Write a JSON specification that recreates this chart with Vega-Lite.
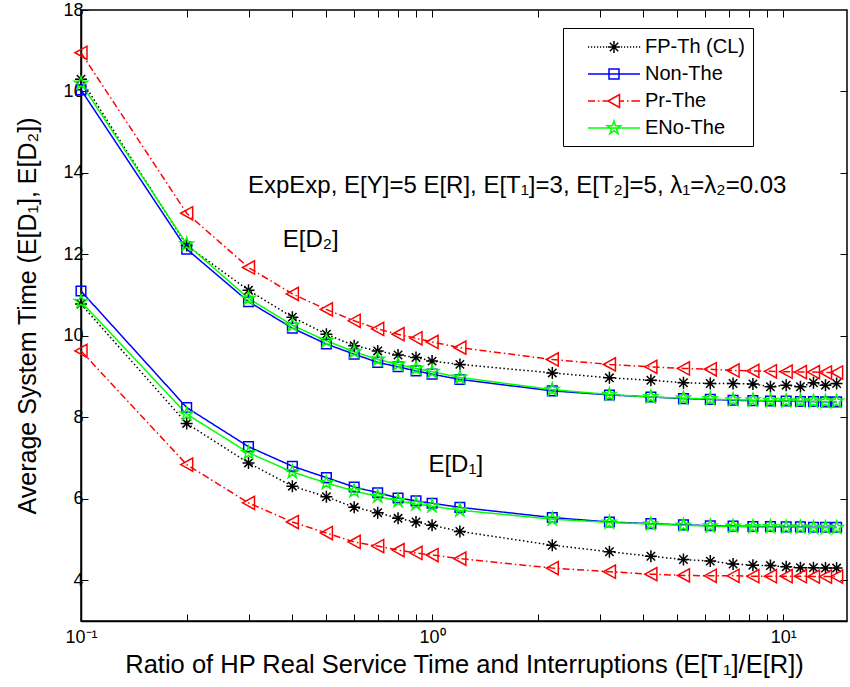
{
  "$schema": "https://vega.github.io/schema/vega-lite/v6.json",
  "width": 766,
  "height": 611,
  "autosize": {"type": "none"},
  "padding": {"left": 81, "top": 10, "right": 3, "bottom": 66},
  "background": "white",
  "config": {
    "font": "Liberation Sans",
    "view": {"stroke": "black", "strokeWidth": 1.5},
    "axis": {"grid": false, "domainColor": "black", "tickColor": "black", "labelColor": "black", "titleColor": "black", "labelFont": "Liberation Sans", "titleFont": "Liberation Sans", "titleFontWeight": "normal", "domainWidth": 1.5, "tickWidth": 1},
    "legend": {"orient": "none", "legendX": 482, "legendY": 18, "title": null, "strokeColor": "black", "fillColor": "white", "padding": 8, "cornerRadius": 0,
      "labelFontSize": 20, "labelFont": "Liberation Sans", "labelColor": "black", "symbolSize": 400, "symbolStrokeWidth": 1.5, "symbolOffset": 32, "labelOffset": 20, "rowPadding": 6, "symbolOpacity": 1}
  },
  "datasets": {
    "notes": [
      {"x": 0.299, "y": 13.51, "t": "ExpExp, E[Y]=5 E[R], E[T₁]=3, E[T₂]=5, λ₁=λ₂=0.03"},
      {"x": 0.3755, "y": 12.19, "t": "E[D₂]"},
      {"x": 0.976, "y": 6.66, "t": "E[D₁]"}
    ]
  },
  "data": {"values": [
    {"x":0.1,"c":"D2","s":"FP-Th (CL)","y":16.30},{"x":0.2,"c":"D2","s":"FP-Th (CL)","y":12.22},{"x":0.3,"c":"D2","s":"FP-Th (CL)","y":11.12},{"x":0.4,"c":"D2","s":"FP-Th (CL)","y":10.46},{"x":0.5,"c":"D2","s":"FP-Th (CL)","y":10.04},{"x":0.6,"c":"D2","s":"FP-Th (CL)","y":9.76},{"x":0.7,"c":"D2","s":"FP-Th (CL)","y":9.63},{"x":0.8,"c":"D2","s":"FP-Th (CL)","y":9.53},{"x":0.9,"c":"D2","s":"FP-Th (CL)","y":9.47},{"x":1.0,"c":"D2","s":"FP-Th (CL)","y":9.38},{"x":1.2,"c":"D2","s":"FP-Th (CL)","y":9.30},{"x":2.2,"c":"D2","s":"FP-Th (CL)","y":9.09},{"x":3.2,"c":"D2","s":"FP-Th (CL)","y":8.97},{"x":4.2,"c":"D2","s":"FP-Th (CL)","y":8.91},{"x":5.2,"c":"D2","s":"FP-Th (CL)","y":8.85},{"x":6.2,"c":"D2","s":"FP-Th (CL)","y":8.83},{"x":7.2,"c":"D2","s":"FP-Th (CL)","y":8.83},{"x":8.2,"c":"D2","s":"FP-Th (CL)","y":8.82},{"x":9.2,"c":"D2","s":"FP-Th (CL)","y":8.75},{"x":10.2,"c":"D2","s":"FP-Th (CL)","y":8.79},{"x":11.2,"c":"D2","s":"FP-Th (CL)","y":8.75},{"x":12.2,"c":"D2","s":"FP-Th (CL)","y":8.85},{"x":13.2,"c":"D2","s":"FP-Th (CL)","y":8.79},{"x":14.2,"c":"D2","s":"FP-Th (CL)","y":8.83},
    {"x":0.1,"c":"D1","s":"FP-Th (CL)","y":10.78},{"x":0.2,"c":"D1","s":"FP-Th (CL)","y":7.85},{"x":0.3,"c":"D1","s":"FP-Th (CL)","y":6.88},{"x":0.4,"c":"D1","s":"FP-Th (CL)","y":6.31},{"x":0.5,"c":"D1","s":"FP-Th (CL)","y":6.05},{"x":0.6,"c":"D1","s":"FP-Th (CL)","y":5.79},{"x":0.7,"c":"D1","s":"FP-Th (CL)","y":5.66},{"x":0.8,"c":"D1","s":"FP-Th (CL)","y":5.52},{"x":0.9,"c":"D1","s":"FP-Th (CL)","y":5.43},{"x":1.0,"c":"D1","s":"FP-Th (CL)","y":5.35},{"x":1.2,"c":"D1","s":"FP-Th (CL)","y":5.20},{"x":2.2,"c":"D1","s":"FP-Th (CL)","y":4.86},{"x":3.2,"c":"D1","s":"FP-Th (CL)","y":4.70},{"x":4.2,"c":"D1","s":"FP-Th (CL)","y":4.59},{"x":5.2,"c":"D1","s":"FP-Th (CL)","y":4.51},{"x":6.2,"c":"D1","s":"FP-Th (CL)","y":4.47},{"x":7.2,"c":"D1","s":"FP-Th (CL)","y":4.40},{"x":8.2,"c":"D1","s":"FP-Th (CL)","y":4.37},{"x":9.2,"c":"D1","s":"FP-Th (CL)","y":4.36},{"x":10.2,"c":"D1","s":"FP-Th (CL)","y":4.33},{"x":11.2,"c":"D1","s":"FP-Th (CL)","y":4.31},{"x":12.2,"c":"D1","s":"FP-Th (CL)","y":4.31},{"x":13.2,"c":"D1","s":"FP-Th (CL)","y":4.30},{"x":14.2,"c":"D1","s":"FP-Th (CL)","y":4.30},
    {"x":0.1,"c":"D2","s":"Non-The","y":16.04},{"x":0.2,"c":"D2","s":"Non-The","y":12.13},{"x":0.3,"c":"D2","s":"Non-The","y":10.84},{"x":0.4,"c":"D2","s":"Non-The","y":10.19},{"x":0.5,"c":"D2","s":"Non-The","y":9.80},{"x":0.6,"c":"D2","s":"Non-The","y":9.55},{"x":0.7,"c":"D2","s":"Non-The","y":9.35},{"x":0.8,"c":"D2","s":"Non-The","y":9.24},{"x":0.9,"c":"D2","s":"Non-The","y":9.14},{"x":1.0,"c":"D2","s":"Non-The","y":9.06},{"x":1.2,"c":"D2","s":"Non-The","y":8.93},{"x":2.2,"c":"D2","s":"Non-The","y":8.65},{"x":3.2,"c":"D2","s":"Non-The","y":8.55},{"x":4.2,"c":"D2","s":"Non-The","y":8.50},{"x":5.2,"c":"D2","s":"Non-The","y":8.46},{"x":6.2,"c":"D2","s":"Non-The","y":8.44},{"x":7.2,"c":"D2","s":"Non-The","y":8.42},{"x":8.2,"c":"D2","s":"Non-The","y":8.41},{"x":9.2,"c":"D2","s":"Non-The","y":8.40},{"x":10.2,"c":"D2","s":"Non-The","y":8.40},{"x":11.2,"c":"D2","s":"Non-The","y":8.39},{"x":12.2,"c":"D2","s":"Non-The","y":8.39},{"x":13.2,"c":"D2","s":"Non-The","y":8.38},{"x":14.2,"c":"D2","s":"Non-The","y":8.38},
    {"x":0.1,"c":"D1","s":"Non-The","y":11.10},{"x":0.2,"c":"D1","s":"Non-The","y":8.24},{"x":0.3,"c":"D1","s":"Non-The","y":7.28},{"x":0.4,"c":"D1","s":"Non-The","y":6.80},{"x":0.5,"c":"D1","s":"Non-The","y":6.52},{"x":0.6,"c":"D1","s":"Non-The","y":6.29},{"x":0.7,"c":"D1","s":"Non-The","y":6.15},{"x":0.8,"c":"D1","s":"Non-The","y":6.02},{"x":0.9,"c":"D1","s":"Non-The","y":5.95},{"x":1.0,"c":"D1","s":"Non-The","y":5.89},{"x":1.2,"c":"D1","s":"Non-The","y":5.79},{"x":2.2,"c":"D1","s":"Non-The","y":5.54},{"x":3.2,"c":"D1","s":"Non-The","y":5.43},{"x":4.2,"c":"D1","s":"Non-The","y":5.39},{"x":5.2,"c":"D1","s":"Non-The","y":5.36},{"x":6.2,"c":"D1","s":"Non-The","y":5.34},{"x":7.2,"c":"D1","s":"Non-The","y":5.33},{"x":8.2,"c":"D1","s":"Non-The","y":5.32},{"x":9.2,"c":"D1","s":"Non-The","y":5.32},{"x":10.2,"c":"D1","s":"Non-The","y":5.31},{"x":11.2,"c":"D1","s":"Non-The","y":5.31},{"x":12.2,"c":"D1","s":"Non-The","y":5.30},{"x":13.2,"c":"D1","s":"Non-The","y":5.30},{"x":14.2,"c":"D1","s":"Non-The","y":5.30},
    {"x":0.1,"c":"D2","s":"Pr-The","y":16.95},{"x":0.2,"c":"D2","s":"Pr-The","y":13.01},{"x":0.3,"c":"D2","s":"Pr-The","y":11.68},{"x":0.4,"c":"D2","s":"Pr-The","y":11.03},{"x":0.5,"c":"D2","s":"Pr-The","y":10.65},{"x":0.6,"c":"D2","s":"Pr-The","y":10.37},{"x":0.7,"c":"D2","s":"Pr-The","y":10.17},{"x":0.8,"c":"D2","s":"Pr-The","y":10.04},{"x":0.9,"c":"D2","s":"Pr-The","y":9.94},{"x":1.0,"c":"D2","s":"Pr-The","y":9.85},{"x":1.2,"c":"D2","s":"Pr-The","y":9.71},{"x":2.2,"c":"D2","s":"Pr-The","y":9.42},{"x":3.2,"c":"D2","s":"Pr-The","y":9.30},{"x":4.2,"c":"D2","s":"Pr-The","y":9.24},{"x":5.2,"c":"D2","s":"Pr-The","y":9.20},{"x":6.2,"c":"D2","s":"Pr-The","y":9.18},{"x":7.2,"c":"D2","s":"Pr-The","y":9.15},{"x":8.2,"c":"D2","s":"Pr-The","y":9.14},{"x":9.2,"c":"D2","s":"Pr-The","y":9.13},{"x":10.2,"c":"D2","s":"Pr-The","y":9.12},{"x":11.2,"c":"D2","s":"Pr-The","y":9.11},{"x":12.2,"c":"D2","s":"Pr-The","y":9.11},{"x":13.2,"c":"D2","s":"Pr-The","y":9.10},{"x":14.2,"c":"D2","s":"Pr-The","y":9.10},
    {"x":0.1,"c":"D1","s":"Pr-The","y":9.63},{"x":0.2,"c":"D1","s":"Pr-The","y":6.84},{"x":0.3,"c":"D1","s":"Pr-The","y":5.90},{"x":0.4,"c":"D1","s":"Pr-The","y":5.43},{"x":0.5,"c":"D1","s":"Pr-The","y":5.16},{"x":0.6,"c":"D1","s":"Pr-The","y":4.94},{"x":0.7,"c":"D1","s":"Pr-The","y":4.84},{"x":0.8,"c":"D1","s":"Pr-The","y":4.74},{"x":0.9,"c":"D1","s":"Pr-The","y":4.67},{"x":1.0,"c":"D1","s":"Pr-The","y":4.62},{"x":1.2,"c":"D1","s":"Pr-The","y":4.53},{"x":2.2,"c":"D1","s":"Pr-The","y":4.30},{"x":3.2,"c":"D1","s":"Pr-The","y":4.21},{"x":4.2,"c":"D1","s":"Pr-The","y":4.15},{"x":5.2,"c":"D1","s":"Pr-The","y":4.12},{"x":6.2,"c":"D1","s":"Pr-The","y":4.11},{"x":7.2,"c":"D1","s":"Pr-The","y":4.11},{"x":8.2,"c":"D1","s":"Pr-The","y":4.10},{"x":9.2,"c":"D1","s":"Pr-The","y":4.10},{"x":10.2,"c":"D1","s":"Pr-The","y":4.10},{"x":11.2,"c":"D1","s":"Pr-The","y":4.10},{"x":12.2,"c":"D1","s":"Pr-The","y":4.09},{"x":13.2,"c":"D1","s":"Pr-The","y":4.09},{"x":14.2,"c":"D1","s":"Pr-The","y":4.09},
    {"x":0.1,"c":"D2","s":"ENo-The","y":16.20},{"x":0.2,"c":"D2","s":"ENo-The","y":12.25},{"x":0.3,"c":"D2","s":"ENo-The","y":10.92},{"x":0.4,"c":"D2","s":"ENo-The","y":10.26},{"x":0.5,"c":"D2","s":"ENo-The","y":9.88},{"x":0.6,"c":"D2","s":"ENo-The","y":9.61},{"x":0.7,"c":"D2","s":"ENo-The","y":9.42},{"x":0.8,"c":"D2","s":"ENo-The","y":9.30},{"x":0.9,"c":"D2","s":"ENo-The","y":9.20},{"x":1.0,"c":"D2","s":"ENo-The","y":9.12},{"x":1.2,"c":"D2","s":"ENo-The","y":8.98},{"x":2.2,"c":"D2","s":"ENo-The","y":8.68},{"x":3.2,"c":"D2","s":"ENo-The","y":8.56},{"x":4.2,"c":"D2","s":"ENo-The","y":8.50},{"x":5.2,"c":"D2","s":"ENo-The","y":8.47},{"x":6.2,"c":"D2","s":"ENo-The","y":8.45},{"x":7.2,"c":"D2","s":"ENo-The","y":8.43},{"x":8.2,"c":"D2","s":"ENo-The","y":8.42},{"x":9.2,"c":"D2","s":"ENo-The","y":8.41},{"x":10.2,"c":"D2","s":"ENo-The","y":8.40},{"x":11.2,"c":"D2","s":"ENo-The","y":8.40},{"x":12.2,"c":"D2","s":"ENo-The","y":8.39},{"x":13.2,"c":"D2","s":"ENo-The","y":8.39},{"x":14.2,"c":"D2","s":"ENo-The","y":8.39},
    {"x":0.1,"c":"D1","s":"ENo-The","y":10.84},{"x":0.2,"c":"D1","s":"ENo-The","y":8.08},{"x":0.3,"c":"D1","s":"ENo-The","y":7.13},{"x":0.4,"c":"D1","s":"ENo-The","y":6.66},{"x":0.5,"c":"D1","s":"ENo-The","y":6.39},{"x":0.6,"c":"D1","s":"ENo-The","y":6.19},{"x":0.7,"c":"D1","s":"ENo-The","y":6.06},{"x":0.8,"c":"D1","s":"ENo-The","y":5.95},{"x":0.9,"c":"D1","s":"ENo-The","y":5.87},{"x":1.0,"c":"D1","s":"ENo-The","y":5.82},{"x":1.2,"c":"D1","s":"ENo-The","y":5.72},{"x":2.2,"c":"D1","s":"ENo-The","y":5.50},{"x":3.2,"c":"D1","s":"ENo-The","y":5.42},{"x":4.2,"c":"D1","s":"ENo-The","y":5.38},{"x":5.2,"c":"D1","s":"ENo-The","y":5.35},{"x":6.2,"c":"D1","s":"ENo-The","y":5.33},{"x":7.2,"c":"D1","s":"ENo-The","y":5.32},{"x":8.2,"c":"D1","s":"ENo-The","y":5.31},{"x":9.2,"c":"D1","s":"ENo-The","y":5.31},{"x":10.2,"c":"D1","s":"ENo-The","y":5.30},{"x":11.2,"c":"D1","s":"ENo-The","y":5.30},{"x":12.2,"c":"D1","s":"ENo-The","y":5.29},{"x":13.2,"c":"D1","s":"ENo-The","y":5.29},{"x":14.2,"c":"D1","s":"ENo-The","y":5.29}
  ]},
  "resolve": {"scale": {"shape": "independent", "color": "independent"}, "axis": {"x": "independent", "y": "independent"}},
  "layer": [
    {
      "mark": {"type": "line", "strokeWidth": 1.5},
      "encoding": {
        "x": {"field": "x", "type": "quantitative", "scale": {"type": "log", "domain": [0.1, 15.2], "nice": false},
          "axis": {"orient": "bottom", "values": [0.1,0.2,0.3,0.4,0.5,0.6,0.7,0.8,0.9,1,2,3,4,5,6,7,8,9,10],
            "labelExpr": "datum.value == 0.1 ? '10⁻¹' : (datum.value == 1 ? '10⁰' : (datum.value == 10 ? '10¹' : ''))",
            "labelOverlap": false, "labelFlush": false, "tickSize": -7, "labelPadding": 14, "labelFontSize": 18,
            "title": "Ratio of HP Real Service Time and Interruptions (E[T₁]/E[R])", "titleFontSize": 25.5, "titlePadding": 6}},
        "y": {"field": "y", "type": "quantitative", "scale": {"domain": [3, 18], "nice": false, "zero": false},
          "axis": {"orient": "left", "values": [4,6,8,10,12,14,16,18], "tickSize": -7, "labelPadding": 5, "labelFontSize": 18,
            "title": "Average System Time (E[D₁], E[D₂])", "titleFontSize": 25, "titlePadding": 22}},
        "color": {"field": "s", "type": "nominal", "scale": {"domain": ["FP-Th (CL)", "Non-The", "Pr-The", "ENo-The"], "range": ["#000000", "#0000ff", "#ff0000", "#00ff00"]}, "legend": null},
        "strokeDash": {"field": "s", "type": "nominal", "scale": {"domain": ["FP-Th (CL)", "Non-The", "Pr-The", "ENo-The"], "range": [[1.5, 2.5], [1, 0], [7, 3, 1.5, 3], [1, 0]]}, "legend": null},
        "detail": {"field": "c"}
      }
    },
    {
      "mark": {"type": "point", "filled": false, "strokeWidth": 1.5, "size": 144, "opacity": 1},
      "encoding": {
        "x": {"field": "x", "type": "quantitative", "axis": null},
        "y": {"field": "y", "type": "quantitative", "axis": null},
        "color": {"field": "s", "type": "nominal", "legend": null, "scale": {"domain": ["FP-Th (CL)", "Non-The", "Pr-The", "ENo-The"], "range": ["#000000", "#0000ff", "#ff0000", "#00ff00"]}},
        "shape": {"field": "s", "type": "nominal", "legend": null, "scale": {"domain": ["FP-Th (CL)", "Non-The", "Pr-The", "ENo-The"], "range": [
          "M-1,0L1,0M0,-1L0,1M-0.7,-0.7L0.7,0.7M-0.7,0.7L0.7,-0.7",
          "M-0.8,-0.8L0.8,-0.8L0.8,0.8L-0.8,0.8Z",
          "M-1,0L1,-1.1L1,1.1Z",
          "M0,-1.15L0.259,-0.355L1.094,-0.355L0.417,0.136L0.676,0.93L0,0.439L-0.676,0.93L-0.417,0.136L-1.094,-0.355L-0.259,-0.355Z"
        ]}}
      }
    },
    {
      "transform": [{"filter": "false"}],
      "mark": {"type": "point", "filled": false, "strokeWidth": 1.5, "opacity": 1},
      "encoding": {
        "x": {"field": "x", "type": "quantitative", "axis": {"orient": "top", "values": [0.2,0.3,0.4,0.5,0.6,0.7,0.8,0.9,1,2,3,4,5,6,7,8,9,10], "labels": false, "tickSize": -7, "title": null, "domain": false}},
        "y": {"field": "y", "type": "quantitative", "axis": {"orient": "right", "values": [4,6,8,10,12,14,16], "labels": false, "tickSize": -7, "title": null, "domain": false}},
        "color": {"field": "s", "type": "nominal", "title": null, "scale": {"domain": ["FP-Th (CL)", "Non-The", "Pr-The", "ENo-The"], "range": ["#000000", "#0000ff", "#ff0000", "#00ff00"]}},
        "shape": {"field": "s", "type": "nominal", "title": null,
          "scale": {"domain": ["FP-Th (CL)", "Non-The", "Pr-The", "ENo-The"], "range": [
          "M-2.6,0L-2.48,0M-2.3,0L-2.18,0M-2,0L-1.88,0M-1.7,0L-1.58,0M-1.4,0L-1.28,0M-1.1,0L-0.98,0M-0.8,0L-0.68,0M0.7,0L0.82,0M1,0L1.12,0M1.3,0L1.42,0M1.6,0L1.72,0M1.9,0L2.02,0M2.2,0L2.32,0M2.5,0L2.62,0M-0.6,0L0.6,0M0,-0.6L0,0.6M-0.42,-0.42L0.42,0.42M-0.42,0.42L0.42,-0.42",
          "M-2.6,0L2.6,0M-0.5,-0.5L0.5,-0.5L0.5,0.5L-0.5,0.5Z",
          "M-2.6,0L-1.9,0M-1.6,0L-1.45,0M-1.15,0L-0.6,0M0.6,0L1.0,0M1.3,0L1.45,0M1.75,0L2.6,0M-0.6,0L0.55,-0.65L0.55,0.65Z",
          "M-2.6,0L2.6,0M0,-0.7L0.158,-0.216L0.666,-0.216L0.254,0.083L0.411,0.566L0,0.267L-0.411,0.566L-0.254,0.083L-0.666,-0.216L-0.158,-0.216Z"
        ]}}
      }
    },
    {
      "data": {"name": "notes"},
      "mark": {"type": "text", "align": "left", "baseline": "alphabetic", "fontSize": 24, "font": "Liberation Sans", "color": "black"},
      "encoding": {
        "x": {"field": "x", "type": "quantitative", "axis": null},
        "y": {"field": "y", "type": "quantitative", "axis": null},
        "text": {"field": "t"}
      }
    }
  ]
}
